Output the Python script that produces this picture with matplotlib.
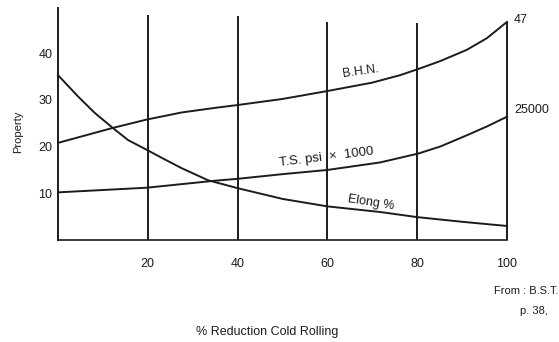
import numpy as np
import matplotlib.pyplot as plt

plt.rcParams['font.family'] = ['Liberation Sans', 'DejaVu Sans']

# values (x = % reduction cold rolling)
bhn_x = [0, 12.2, 19.8, 27.5, 35, 40, 50, 60, 70, 76.2, 80.2, 85.1, 91, 95.5, 100]
bhn_y = [20.8, 24.0, 25.8, 27.3, 28.3, 28.9, 30.2, 31.9, 33.7, 35.3, 36.6, 38.3, 40.7, 43.2, 46.7]

ts_x = [0, 19.8, 35, 40, 50, 60, 71.7, 80.2, 85.1, 91, 95.5, 100]
ts_y = [10.2, 11.2, 12.7, 13.1, 14.1, 15.0, 16.6, 18.5, 20.0, 22.4, 24.3, 26.4]

elong_x = [0, 4.5, 8.2, 12.2, 15.6, 19.8, 23.1, 27.5, 33.4, 40, 50, 60, 71.7, 80, 90, 100]
elong_y = [35.3, 30.7, 27.2, 24.0, 21.4, 19.3, 17.6, 15.4, 12.8, 11.1, 8.8, 7.2, 6.0, 4.9, 3.9, 3.0]

grid_x = [20, 40, 60, 80]
grid_top = [48.2, 48.0, 46.7, 46.5]
x_ticks = [20, 40, 60, 80, 100]
y_ticks = [10, 20, 30, 40]

ink = '#1c1c1c'

fig = plt.figure(figsize=(5.59, 3.42), dpi=100)
ax = fig.add_axes([58 / 559, 1 - 240 / 342, 449 / 559, 232 / 342])
ax.set_xlim(0, 100)
ax.set_ylim(0, 232 / 4.67)

for s in ['top', 'right']:
    ax.spines[s].set_visible(False)
ax.spines['left'].set_color(ink)
ax.spines['left'].set_linewidth(1.4)
ax.spines['bottom'].set_color(ink)
ax.spines['bottom'].set_linewidth(1.2)

ax.vlines(grid_x, 0, grid_top, color=ink, lw=1.4)
ax.vlines(100, 0, bhn_y[-1], color=ink, lw=1.4, clip_on=False)

ax.plot(bhn_x, bhn_y, color=ink, lw=1.4, clip_on=False)
ax.plot(ts_x, ts_y, color=ink, lw=1.4, clip_on=False)
ax.plot(elong_x, elong_y, color=ink, lw=1.4, clip_on=False)

ax.set_xticks(x_ticks)
ax.set_yticks(y_ticks)
ax.tick_params(axis='x', length=0, pad=13, labelsize=9, colors=ink)
ax.tick_params(axis='y', length=0, pad=4, labelsize=9, colors=ink)

ax.text(67.3, 36.0, 'B.H.N.', rotation=8, ha='center', va='center', fontsize=9, color=ink)
ax.text(59.8, 17.8, 'T.S. psi  \u00d7  1000', rotation=7, ha='center', va='center', fontsize=9.5, color=ink)
ax.text(69.8, 7.9, 'Elong %', rotation=-9, ha='center', va='center', fontsize=9, color=ink)

fig.text(514 / 559, 1 - 20 / 342, '47', ha='left', va='center', fontsize=9, color=ink)
fig.text(514 / 559, 1 - 110 / 342, '25000', ha='left', va='center', fontsize=9, color=ink)
fig.text(558 / 559, 1 - 291 / 342, 'From : B.S.T.', ha='right', va='center', fontsize=8, color=ink)
fig.text(548 / 559, 1 - 311 / 342, 'p. 38,', ha='right', va='center', fontsize=8, color=ink)

fig.text(267 / 559, 1 - 332 / 342, '% Reduction Cold Rolling', ha='center', va='center', fontsize=9, color=ink)
fig.text(18 / 559, 1 - 132 / 342, 'Property', rotation=90, ha='center', va='center', fontsize=8, color=ink)

fig.savefig('out.png', dpi=100)
